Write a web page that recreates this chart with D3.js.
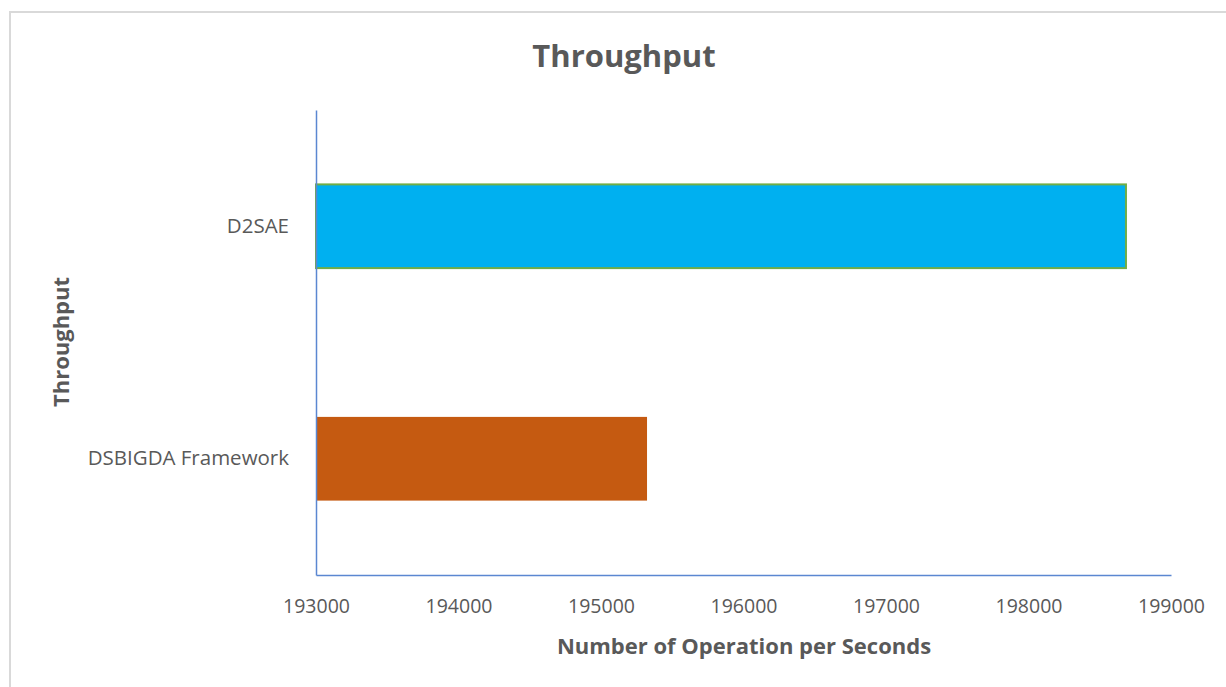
<!DOCTYPE html>
<html>
<head>
<meta charset="utf-8">
<script src="https://cdn.jsdelivr.net/npm/d3@7"></script>
<style>
  body { margin: 0; background: #fff; }
  text { font-family: "Open Sans", sans-serif; }
</style>
</head>
<body>
<svg id="chart" width="1226" height="687"></svg>
<script>
// chart values
const categories = ["D2SAE", "DSBIGDA Framework"];
const throughput = [198684, 195323];
const xTicks = [193000, 194000, 195000, 196000, 197000, 198000, 199000];
const barColors = ["#00B0F0", "#C55A11"];
const barStroke = ["#70AD47", "none"];

const svg = d3.select("#chart");

// light frame around the chart area
svg.append("rect")
    .attr("x", 10).attr("y", 12)
    .attr("width", 1230).attr("height", 690)
    .attr("fill", "none")
    .attr("stroke", "#d9d9d9")
    .attr("stroke-width", 2);

const plotLeft = 316, plotRight = 1171, plotTop = 110, plotBottom = 575;

const x = d3.scaleLinear()
    .domain([193000, 199000])
    .range([plotLeft, plotRight]);

const y = d3.scaleBand()
    .domain(categories)
    .range([plotTop, plotBottom])
    .paddingInner(0.64)
    .paddingOuter(0.32);

// bars
svg.append("g")
    .selectAll("rect")
    .data(categories)
    .join("rect")
      .attr("x", x(193000))
      .attr("y", d => y(d))
      .attr("width", (d, i) => x(throughput[i]) - x(193000))
      .attr("height", y.bandwidth())
      .attr("fill", (d, i) => barColors[i])
      .attr("stroke", (d, i) => barStroke[i])
      .attr("stroke-width", 2);

// x axis
const xAxis = svg.append("g")
    .attr("transform", "translate(0," + plotBottom + ")")
    .call(d3.axisBottom(x).tickValues(xTicks).tickSize(0).tickPadding(24).tickFormat(d3.format("d")));
xAxis.select(".domain").attr("stroke", "#5B87D1").attr("stroke-width", 1.5);
xAxis.selectAll("text").attr("fill", "#595959").style("font-size", "19.5px");

// y axis
const yAxis = svg.append("g")
    .attr("transform", "translate(" + plotLeft + ",0)")
    .call(d3.axisLeft(y).tickSize(0).tickPadding(27));
yAxis.select(".domain").attr("stroke", "#5B87D1").attr("stroke-width", 1.5);
yAxis.selectAll("text").attr("fill", "#595959").style("font-size", "20.5px");

// titles
svg.append("text")
    .attr("x", 624).attr("y", 67)
    .attr("text-anchor", "middle")
    .attr("fill", "#595959")
    .style("font-size", "31px").style("font-weight", "bold")
    .text("Throughput");

svg.append("text")
    .attr("x", 744).attr("y", 654)
    .attr("text-anchor", "middle")
    .attr("fill", "#595959")
    .style("font-size", "22px").style("font-weight", "bold")
    .text("Number of Operation per Seconds");

svg.append("text")
    .attr("transform", "translate(69,342)rotate(-90)")
    .attr("text-anchor", "middle")
    .attr("fill", "#595959")
    .style("font-size", "22px").style("font-weight", "bold")
    .text("Throughput");
</script>
</body>
</html>
